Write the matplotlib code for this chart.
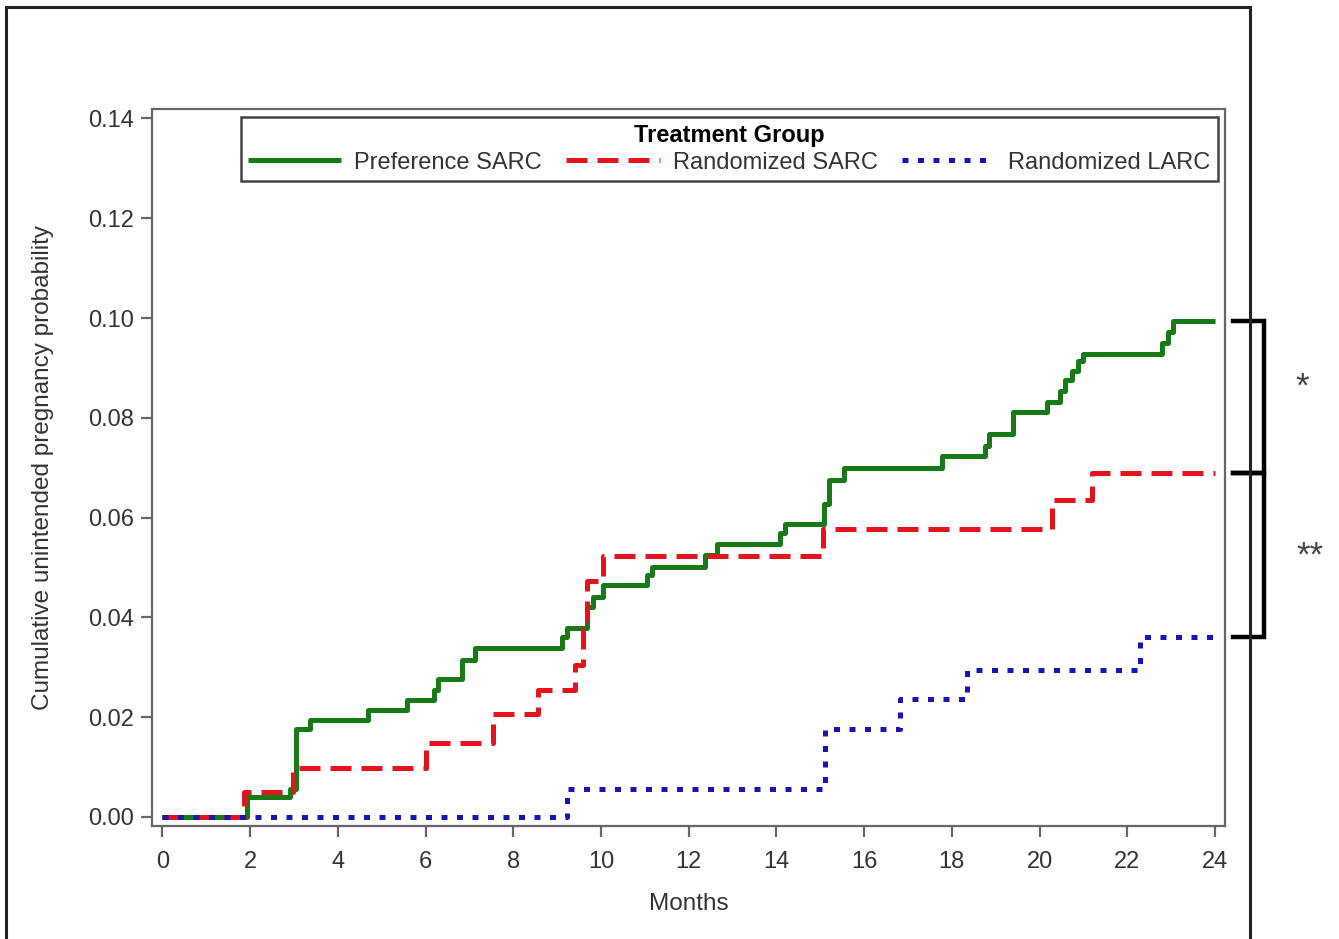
import numpy as np
import matplotlib
matplotlib.use("Agg")
import matplotlib.pyplot as plt
from matplotlib.patches import Rectangle
from matplotlib.transforms import blended_transform_factory

plt.rcParams['font.family'] = ['Liberation Sans', 'DejaVu Sans']

# ==============================================================================
# step curves (months, cumulative probability)
pref_sarc_t = [0, 1.93, 2.91, 3.04, 3.36, 4.69, 5.57, 6.18, 6.29, 6.82, 7.13, 9.10, 9.22,
               9.67, 9.82, 10.05, 11.04, 11.16, 12.37, 12.64, 14.08, 14.2, 15.08, 15.2,
               15.53, 17.77, 18.76, 18.84, 19.4, 20.16, 20.47, 20.58, 20.73, 20.88, 21.0,
               22.79, 22.94, 23.05, 24]
pref_sarc_p = [0, .0040, .0057, .0176, .0195, .0214, .0234, .0254, .0276, .0315, .0339,
               .0360, .0378, .0421, .0441, .0465, .0485, .0502, .0526, .0547, .0570, .0587,
               .0628, .0676, .0700, .0723, .0744, .0768, .0812, .0832, .0853, .0876, .0893,
               .0914, .0927, .0951, .0972, .0994, .0994]

rand_sarc_t = [0, 1.85, 2.98, 6.02, 7.54, 8.57, 9.41, 9.58, 9.68, 10.05, 15.07, 20.28, 21.19, 24]
rand_sarc_p = [0, .0050, .0098, .0149, .0207, .0254, .0305, .0377, .0472, .0523, .0577,
               .0635, .0689, .0689]

rand_larc_t = [0, 9.22, 15.11, 16.82, 18.35, 22.29, 24]
rand_larc_p = [0, .0057, .0176, .0237, .0295, .0360, .0360]

group_names = ["Preference SARC", "Randomized SARC", "Randomized LARC"]
x_ticks = list(range(0, 25, 2))
y_ticks = [0.00, 0.02, 0.04, 0.06, 0.08, 0.10, 0.12, 0.14]

# ==============================================================================
fig = plt.figure(figsize=(13.39, 9.39), dpi=100)
ax = fig.add_axes([0.1133, 0.1207, 0.8016, 0.7632])

ax.plot(pref_sarc_t, pref_sarc_p, drawstyle='steps-post', color='#177a17', lw=3.6,
        label=group_names[0], solid_capstyle='butt')
ax.plot(rand_sarc_t, rand_sarc_p, drawstyle='steps-post', color='#e3141b', lw=3.6,
        dashes=(4.2, 2.0), label=group_names[1], dash_capstyle='butt')
ax.plot(rand_larc_t, rand_larc_p, drawstyle='steps-post', color='#1414b8', lw=3.6,
        dashes=(1.2, 1.9), label=group_names[2], dash_capstyle='butt')

ax.set_xlim(-0.246, 24.23)
ax.set_ylim(-0.00174, 0.1419)
ax.set_xticks(x_ticks)
ax.set_yticks(y_ticks)
ax.set_yticklabels(["%.2f" % v for v in y_ticks])

frame_col = '#666666'
for s in ax.spines.values():
    s.set_color(frame_col)
    s.set_linewidth(1.6)
ax.tick_params(direction='out', length=8, width=1.6, color=frame_col,
               labelsize=17, labelcolor='#333333')
ax.tick_params(axis='x', pad=10)
ax.tick_params(axis='y', pad=5)
ax.set_xlabel("Months", fontsize=17.5, color='#333333', labelpad=15)
ax.set_ylabel("Cumulative unintended pregnancy probability", fontsize=17.5,
              color='#333333', labelpad=24)

leg = ax.legend(ncol=3, title="Treatment Group", loc='upper left',
                bbox_to_anchor=(0.083, 0.989, 0.910, 0), mode='expand',
                fancybox=False, framealpha=1, edgecolor='#444444',
                fontsize=17, title_fontsize=17, handlelength=3.95,
                handletextpad=0.55, borderpad=0.3, labelspacing=0.2,
                borderaxespad=0)
leg.get_title().set_fontweight('bold')
leg.get_frame().set_linewidth(1.8)
for t in leg.get_texts():
    t.set_color('#333333')

# outer border of the picture
fig.add_artist(Rectangle((6 / 1339, -0.01), (1250 - 6) / 1339, 1.01 - 7 / 939,
                         transform=fig.transFigure, fill=False, lw=2.2,
                         edgecolor='#222222'))

# significance brackets at the curve ends
tr = blended_transform_factory(fig.transFigure, ax.transData)
x0, x1 = 1233 / 1339, 1264 / 1339
top, mid, low = pref_sarc_p[-1], rand_sarc_p[-1], rand_larc_p[-1]
ax.plot([x0, x1, x1, x0], [top, top, mid, mid], transform=tr, color='black',
        lw=3.2, clip_on=False, solid_joinstyle='miter')
ax.plot([x0, x1, x1, x0], [mid, mid, low, low], transform=tr, color='black',
        lw=3.2, clip_on=False, solid_joinstyle='miter')
ax.text(1302 / 1339, 0.0862, "*", transform=tr, fontsize=25,
        color='#444444', ha='center', va='center')
ax.text(1310 / 1339, 0.0522, "**", transform=tr, fontsize=25,
        color='#444444', ha='center', va='center')

fig.savefig("out.png", dpi=100)
